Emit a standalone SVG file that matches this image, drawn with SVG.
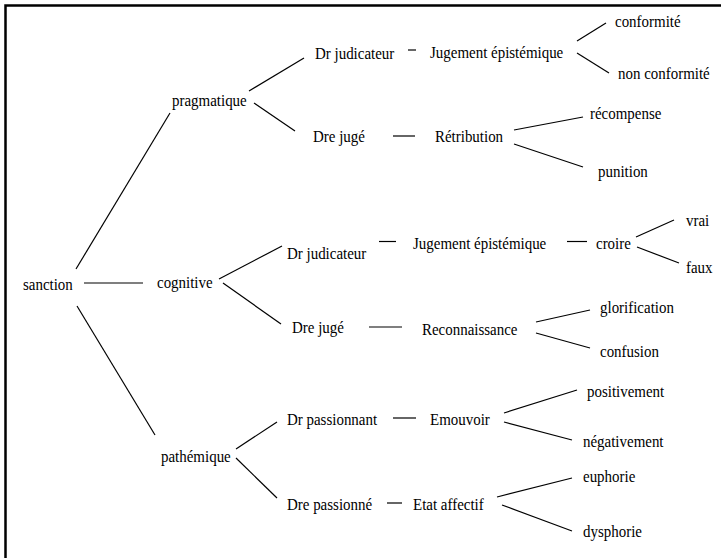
<svg xmlns="http://www.w3.org/2000/svg" width="721" height="558" viewBox="0 0 721 558">
<rect width="721" height="558" fill="#fff"/>
<path d="M5.5,558 V5.5 H721" fill="none" stroke="#000" stroke-width="2.5"/>
<g id="connectors" stroke="#000" stroke-width="1.2" fill="none">
<line x1="76" y1="269" x2="170" y2="113"/>
<line x1="84" y1="283" x2="143" y2="283"/>
<line x1="77" y1="306" x2="155" y2="435"/>
<line x1="249" y1="91" x2="304" y2="58"/>
<line x1="254" y1="103" x2="295" y2="131"/>
<line x1="408" y1="50" x2="416" y2="50"/>
<line x1="577" y1="41" x2="606" y2="23"/>
<line x1="577" y1="53" x2="609" y2="73"/>
<line x1="393" y1="136" x2="415" y2="136"/>
<line x1="514" y1="130" x2="583" y2="117"/>
<line x1="514" y1="144" x2="583" y2="167"/>
<line x1="219" y1="279" x2="282" y2="246"/>
<line x1="223" y1="283" x2="281" y2="324"/>
<line x1="379" y1="241.5" x2="396" y2="241.5"/>
<line x1="567" y1="241.5" x2="587" y2="241.5"/>
<line x1="636" y1="237" x2="674" y2="220"/>
<line x1="637" y1="247" x2="679" y2="263"/>
<line x1="369" y1="327" x2="402" y2="327"/>
<line x1="536" y1="322" x2="590" y2="310"/>
<line x1="536" y1="333" x2="590" y2="348"/>
<line x1="236" y1="449" x2="277" y2="422"/>
<line x1="236" y1="458" x2="277" y2="498"/>
<line x1="393" y1="418" x2="416" y2="418"/>
<line x1="504" y1="413" x2="577" y2="390"/>
<line x1="504" y1="422" x2="572" y2="440"/>
<line x1="387" y1="503" x2="402" y2="503"/>
<line x1="497" y1="497" x2="572" y2="478"/>
<line x1="502" y1="505" x2="572" y2="531"/>
</g>
<g font-family="Liberation Serif" font-size="17" fill="#000">
<g id="n-sanction" transform="translate(23 290) scale(0.88 1)"><text font-family="Liberation Serif" font-size="17">sanction</text></g>
<g id="n-pragmatique" transform="translate(172 106) scale(0.88 1)"><text font-family="Liberation Serif" font-size="17">pragmatique</text></g>
<g id="n-cognitive" transform="translate(157 288) scale(0.88 1)"><text font-family="Liberation Serif" font-size="17">cognitive</text></g>
<g id="n-pathemique" transform="translate(161 462) scale(0.88 1)"><text font-family="Liberation Serif" font-size="17">pathémique</text></g>
<g id="n-prag-drjud" transform="translate(315 59) scale(0.88 1)"><text font-family="Liberation Serif" font-size="17">Dr judicateur</text></g>
<g id="n-prag-jug" transform="translate(430 58) scale(0.88 1)"><text font-family="Liberation Serif" font-size="17">Jugement épistémique</text></g>
<g id="n-conformite" transform="translate(615 27) scale(0.88 1)"><text font-family="Liberation Serif" font-size="17">conformité</text></g>
<g id="n-nonconformite" transform="translate(618 79) scale(0.88 1)"><text font-family="Liberation Serif" font-size="17">non conformité</text></g>
<g id="n-prag-drejuge" transform="translate(313 142) scale(0.88 1)"><text font-family="Liberation Serif" font-size="17">Dre jugé</text></g>
<g id="n-retribution" transform="translate(435 142) scale(0.88 1)"><text font-family="Liberation Serif" font-size="17">Rétribution</text></g>
<g id="n-recompense" transform="translate(590 119) scale(0.88 1)"><text font-family="Liberation Serif" font-size="17">récompense</text></g>
<g id="n-punition" transform="translate(598 177) scale(0.88 1)"><text font-family="Liberation Serif" font-size="17">punition</text></g>
<g id="n-cog-drjud" transform="translate(287 259) scale(0.88 1)"><text font-family="Liberation Serif" font-size="17">Dr judicateur</text></g>
<g id="n-cog-jug" transform="translate(413 249) scale(0.88 1)"><text font-family="Liberation Serif" font-size="17">Jugement épistémique</text></g>
<g id="n-croire" transform="translate(596 249) scale(0.88 1)"><text font-family="Liberation Serif" font-size="17">croire</text></g>
<g id="n-vrai" transform="translate(686 226) scale(0.88 1)"><text font-family="Liberation Serif" font-size="17">vrai</text></g>
<g id="n-faux" transform="translate(686 273) scale(0.88 1)"><text font-family="Liberation Serif" font-size="17">faux</text></g>
<g id="n-cog-drejuge" transform="translate(292 333) scale(0.88 1)"><text font-family="Liberation Serif" font-size="17">Dre jugé</text></g>
<g id="n-reconnaissance" transform="translate(422 335) scale(0.88 1)"><text font-family="Liberation Serif" font-size="17">Reconnaissance</text></g>
<g id="n-glorification" transform="translate(600 313) scale(0.88 1)"><text font-family="Liberation Serif" font-size="17">glorification</text></g>
<g id="n-confusion" transform="translate(600 357) scale(0.88 1)"><text font-family="Liberation Serif" font-size="17">confusion</text></g>
<g id="n-drpassionnant" transform="translate(287 425) scale(0.88 1)"><text font-family="Liberation Serif" font-size="17">Dr passionnant</text></g>
<g id="n-emouvoir" transform="translate(430 425) scale(0.88 1)"><text font-family="Liberation Serif" font-size="17">Emouvoir</text></g>
<g id="n-positivement" transform="translate(587 397) scale(0.88 1)"><text font-family="Liberation Serif" font-size="17">positivement</text></g>
<g id="n-negativement" transform="translate(583 447) scale(0.88 1)"><text font-family="Liberation Serif" font-size="17">négativement</text></g>
<g id="n-drepassionne" transform="translate(287 510) scale(0.88 1)"><text font-family="Liberation Serif" font-size="17">Dre passionné</text></g>
<g id="n-etat" transform="translate(413 510) scale(0.88 1)"><text font-family="Liberation Serif" font-size="17">Etat affectif</text></g>
<g id="n-euphorie" transform="translate(583 482) scale(0.88 1)"><text font-family="Liberation Serif" font-size="17">euphorie</text></g>
<g id="n-dysphorie" transform="translate(583 537) scale(0.88 1)"><text font-family="Liberation Serif" font-size="17">dysphorie</text></g>
</g>
</svg>
